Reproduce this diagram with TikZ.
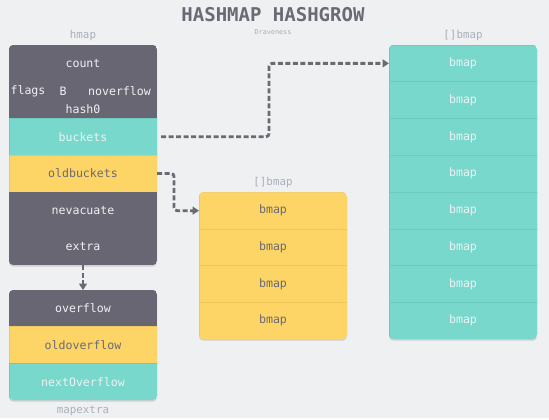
\documentclass[tikz,border=0pt]{standalone}
\usepackage{fontspec}
\setmonofont{DejaVu Sans Mono}
\usepackage{tikz}
\usetikzlibrary{arrows.meta,positioning,shadows}
\definecolor{growbg}{HTML}{EFF0F2}
\definecolor{growdark}{HTML}{686672}
\definecolor{growteal}{HTML}{78D8CC}
\definecolor{growtealline}{HTML}{6CCABE}
\definecolor{growyellow}{HTML}{FCD566}
\definecolor{growyellowline}{HTML}{EEC85C}
\definecolor{growtext}{HTML}{6B6A74}
\definecolor{growlight}{HTML}{EEF1F3}
\definecolor{growlabel}{HTML}{A8B0BA}

\begin{document}
\begin{tikzpicture}[x=1pt,y=-1pt,
  font=\ttfamily\fontsize{11.6}{13}\selectfont,
  row/.style={minimum width=148pt,minimum height=36.7pt,inner sep=0pt,outer sep=0pt},
  darkrow/.style={row,fill=growdark,text=growlight},
  tealrow/.style={row,fill=growteal,text=growlight,draw=growtealline,line width=0.5pt},
  yellowrow/.style={row,fill=growyellow,text=growtext,draw=growyellowline,line width=0.5pt},
  caption/.style={text=growlabel,font=\ttfamily\fontsize{10.8}{12}\selectfont},
  boxback/.style={rounded corners=4pt,fill=growbg,
    drop shadow={shadow xshift=0pt,shadow yshift=-1.5pt,opacity=0.3}},
  pointer/.style={draw=growtext,line width=2.8pt,dash pattern=on 5pt off 2.5pt,
    rounded corners=3pt,-{Triangle[length=6.5pt,width=8pt]}}]
  \fill[growbg] (0,0) rectangle (549,418);
  \node[font=\ttfamily\bfseries\fontsize{19}{21}\selectfont,text=growtext] (title) at (273,15) {HASHMAP HASHGROW};
  \node[font=\ttfamily\fontsize{6.8}{7}\selectfont,text=growlabel] (author) at (273,32) {Draveness};

  % hmap
  \node[caption] (hmaplabel) at (83,36) {hmap};
  \path[boxback] (9,45) rectangle (157,265);
  \begin{scope}
    \clip[rounded corners=4pt] (9,45) rectangle (157,265);
    \node[darkrow] (count) at (83,63.35) {count};
    \node[darkrow,below=0pt of count] (fields) {};
    \node[tealrow,below=0pt of fields] (buckets) {buckets};
    \node[yellowrow,below=0pt of buckets] (oldbuckets) {oldbuckets};
    \node[darkrow,below=0pt of oldbuckets] (nevacuate) {nevacuate};
    \node[darkrow,below=0pt of nevacuate] (extra) {extra};
  \end{scope}
  \node[text=growlight] (flags) at (28,91) {flags};
  \node[text=growlight] (B) at (63,91) {B};
  \node[text=growlight] (noverflow) at (119.5,91) {noverflow};
  \node[text=growlight] (hash0) at (83,109.3) {hash0};

  % mapextra
  \path[boxback] (9,290) rectangle (157,400);
  \begin{scope}
    \clip[rounded corners=4pt] (9,290) rectangle (157,400);
    \node[darkrow] (overflow) at (83,308.35) {overflow};
    \node[yellowrow,below=0pt of overflow] (oldoverflow) {oldoverflow};
    \node[tealrow,below=0pt of oldoverflow] (nextoverflow) {nextOverflow};
  \end{scope}
  \node[caption] (mapextralabel) at (83,411) {mapextra};

  % old buckets
  \node[caption] (oldlabel) at (273,183) {[]bmap};
  \path[boxback] (199,192.3) rectangle (347,339);
  \begin{scope}
    \clip[rounded corners=4pt] (199,192.3) rectangle (347,339);
    \node[yellowrow] (ob1) at (273,210.65) {bmap};
    \foreach \i [remember=\i as \j (initially 1)] in {2,...,4}
      \node[yellowrow,below=0pt of ob\j] (ob\i) {bmap};
  \end{scope}

  % new buckets
  \node[caption] (newlabel) at (463,36) {[]bmap};
  \path[boxback] (389,45) rectangle (537,339);
  \begin{scope}
    \clip[rounded corners=4pt] (389,45) rectangle (537,339);
    \node[tealrow,minimum height=36.75pt] (nb1) at (463,63.375) {bmap};
    \foreach \i [remember=\i as \j (initially 1)] in {2,...,8}
      \node[tealrow,minimum height=36.75pt,below=0pt of nb\j] (nb\i) {bmap};
  \end{scope}

  % pointers
  \draw[pointer] ([xshift=4pt]buckets.east) -- ++(108,0) |- (nb1.west);
  \draw[pointer] (oldbuckets.east) -- ++(17,0) |- (ob1.west);
  \draw[pointer] (extra.south) -- (overflow.north);
\end{tikzpicture}
\end{document}
